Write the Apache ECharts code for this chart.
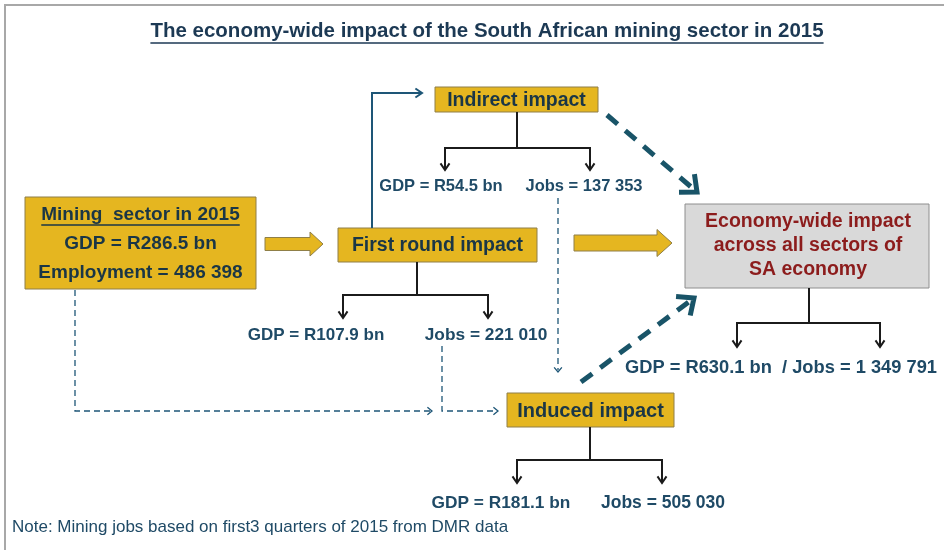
<!DOCTYPE html>
<html>
<head>
<meta charset="utf-8">
<script src="https://cdn.jsdelivr.net/npm/echarts@6/dist/echarts.min.js"></script>
<style>
  html, body { margin: 0; padding: 0; background: #ffffff; }
  #chart { width: 948px; height: 550px; }
</style>
</head>
<body>
<div id="chart"></div>
<script>
// ---- content ----
const titleText = 'The economy-wide impact of the South African mining sector in 2015';
const stageNames = ['Mining  sector in 2015', 'First round impact', 'Indirect impact', 'Induced impact',
  'Economy-wide impact', 'across all sectors of', 'SA economy'];
const gdpBn = [286.5, 107.9, 54.5, 181.1, 630.1];      // mining, first round, indirect, induced, total
const jobs = [486398, 221010, 137353, 505030, 1349791]; // same order
const noteText = 'Note: Mining jobs based on first3 quarters of 2015 from DMR data';

// ---- layout (pixel boxes on the 948 x 550 canvas) ----
const layout = {
  mining:   { x: 25,  y: 197, w: 231, h: 92 },
  first:    { x: 338, y: 228, w: 199, h: 34 },
  indirect: { x: 435, y: 87,  w: 163, h: 25 },
  induced:  { x: 507, y: 393, w: 167, h: 34 },
  economy:  { x: 685, y: 204, w: 244, h: 84 }
};

const C = {
  frame: '#a8a8a8', title: '#1c3954', boxText: '#1a3646', label: '#1f4a66',
  gold: '#e5b620', goldEdge: '#8f7f48', grey: '#d9d9d9', greyEdge: '#8e8e8e',
  red: '#8c1c1c', tree: '#1b1b1b', flow: '#1e5677', dash: '#195468'
};
const SANS = "'Liberation Sans', Arial, sans-serif";
const NARROW = "'Liberation Sans Narrow', 'Arial Narrow', 'Liberation Sans', sans-serif";

const fmtJobs = n => String(n).replace(/\B(?=(\d{3})+(?!\d))/g, ' ');
const gdpLabel = v => 'GDP = R' + v.toFixed(1) + ' bn';
const jobsLabel = v => 'Jobs = ' + fmtJobs(v);

const mctx = document.createElement('canvas').getContext('2d');
const measure = (t, font) => { mctx.font = font; return mctx.measureText(t).width; };

const els = [];
function text(t, x, y, font, fill, align) {
  els.push({ type: 'text', x: x, y: y, silent: true,
    style: { text: t, font: font, fill: fill, textAlign: align || 'center', textVerticalAlign: 'middle',
             align: align || 'center', verticalAlign: 'middle' } });
}
function line(points, stroke, lw, dash) {
  els.push({ type: 'polyline', silent: true, shape: { points: points },
    style: { stroke: stroke, lineWidth: lw, fill: null, lineDash: dash || null, lineCap: 'butt', lineJoin: 'miter' } });
}
function head(tx, ty, ang, len, spread, stroke, lw) {
  line([
    [tx - len * Math.cos(ang - spread), ty - len * Math.sin(ang - spread)],
    [tx, ty],
    [tx - len * Math.cos(ang + spread), ty - len * Math.sin(ang + spread)]
  ], stroke, lw);
}
function box(b, fill, edge) {
  els.push({ type: 'rect', silent: true, shape: { x: b.x, y: b.y, width: b.w, height: b.h },
    style: { fill: fill, stroke: edge, lineWidth: 1 } });
}
function blockArrow(x0, xb, tip, cy, h, H) {
  els.push({ type: 'polygon', silent: true, shape: { points: [
    [x0, cy - h / 2], [xb, cy - h / 2], [xb, cy - H / 2], [tip, cy],
    [xb, cy + H / 2], [xb, cy + h / 2], [x0, cy + h / 2]] },
    style: { fill: C.gold, stroke: C.goldEdge, lineWidth: 1 } });
}
// elbow tree: stem from a box down to a bar, then two arrows down
function tree(cx, yTop, yBar, xL, xR, yEnd) {
  line([[cx, yTop], [cx, yBar]], C.tree, 2);
  line([[xL, yEnd], [xL, yBar], [xR, yBar], [xR, yEnd]], C.tree, 2);
  head(xL, yEnd, Math.PI / 2, 8, 0.6, C.tree, 2);
  head(xR, yEnd, Math.PI / 2, 8, 0.6, C.tree, 2);
}
function thickDash(x0, y0, x1, y1) {
  const ang = Math.atan2(y1 - y0, x1 - x0);
  line([[x0, y0], [x1 - 7 * Math.cos(ang), y1 - 7 * Math.sin(ang)]], C.dash, 5, [14, 10]);
  head(x1, y1, ang, 18, 0.72, C.dash, 5);
}

// frame
line([[5, 550], [5, 5], [944, 5]], C.frame, 2);

// title with underline
const titleFont = 'bold 20.5px ' + NARROW;
text(titleText, 487, 31, titleFont, C.title);
const tw = measure(titleText, titleFont);
line([[487 - tw / 2, 43], [487 + tw / 2, 43]], C.title, 1.5);

// boxes
const mFont = 'bold 19px ' + SANS;
const lm = layout.mining;
box(lm, C.gold, C.goldEdge);
const mcx = lm.x + lm.w / 2;
text(stageNames[0], mcx, 215, mFont, C.boxText);
const mw = measure(stageNames[0], mFont);
line([[mcx - mw / 2, 225], [mcx + mw / 2, 225]], C.boxText, 1.5);
text(gdpLabel(gdpBn[0]), mcx, 244, mFont, C.boxText);
text('Employment = ' + fmtJobs(jobs[0]), mcx, 273, mFont, C.boxText);

const boxFonts = { first: 'bold 19.5px ' + SANS, indirect: 'bold 19.5px ' + SANS, induced: 'bold 20px ' + SANS };
['first', 'indirect', 'induced'].forEach((k, i) => {
  const b = layout[k];
  box(b, C.gold, C.goldEdge);
  text(stageNames[i + 1], b.x + b.w / 2, b.y + b.h / 2 + 1, boxFonts[k], C.boxText);
});

const le = layout.economy;
box(le, C.grey, C.greyEdge);
[4, 5, 6].forEach((s, i) => text(stageNames[s], le.x + le.w / 2 + 1, 222 + i * 24, 'bold 19.5px ' + SANS, C.red));

// block arrows
blockArrow(265, 310, 323, 244, 13, 24);
blockArrow(574, 657, 672, 243, 16, 27);

// first round -> indirect
line([[372, 228], [372, 93], [421, 93]], C.flow, 2);
head(422, 93, 0, 8, 0.6, C.flow, 2);

// trees and value labels
const lab = s => 'bold ' + s + 'px ' + SANS;
tree(517, 112, 148, 445, 590, 170);
text(gdpLabel(gdpBn[2]), 441, 186, lab(16.5), C.label);
text(jobsLabel(jobs[2]), 584, 186, lab(16.5), C.label);

tree(417, 262, 295, 343, 488, 318);
text(gdpLabel(gdpBn[1]), 316, 335, lab(17), C.label);
text(jobsLabel(jobs[1]), 486, 335, lab(17.3), C.label);

tree(590, 427, 460, 517, 662, 483);
text(gdpLabel(gdpBn[3]), 501, 503, lab(17.3), C.label);
text(jobsLabel(jobs[3]), 663, 503, lab(17.5), C.label);

tree(809, 288, 323, 737, 880, 347);
text(gdpLabel(gdpBn[4]) + '  / ' + jobsLabel(jobs[4]), 781, 368, lab(18.3), C.label);

// thin dashed flows into induced impact
const thin = [6, 4];
line([[75, 290], [75, 411], [430, 411]], C.flow, 1.3, thin);
head(432, 411, 0, 6, 0.7, C.flow, 1.3);
line([[442, 346], [442, 411], [496, 411]], C.flow, 1.3, thin);
head(498, 411, 0, 6, 0.7, C.flow, 1.3);
line([[558, 198], [558, 370]], C.flow, 1.3, thin);
head(558, 372, Math.PI / 2, 6, 0.7, C.flow, 1.3);

// heavy dashed flows into the economy-wide box
thickDash(607, 115, 697, 192);
thickDash(581, 382, 694, 298);

// note
text(noteText, 12, 527, '17px ' + NARROW, C.label, 'left');

const chart = echarts.init(document.getElementById('chart'), null, { renderer: 'canvas' });
chart.setOption({ backgroundColor: '#ffffff', animation: false, graphic: { elements: els } });
</script>
</body>
</html>
